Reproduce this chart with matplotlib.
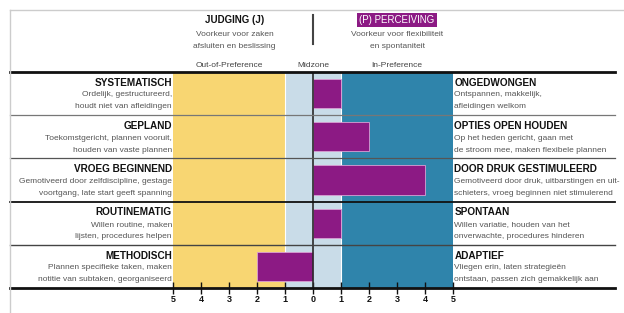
import matplotlib.pyplot as plt
from matplotlib.lines import Line2D

# data
left_titles = ['SYSTEMATISCH', 'GEPLAND', 'VROEG BEGINNEND', 'ROUTINEMATIG', 'METHODISCH']
left_lines = [
    ['Ordelijk, gestructureerd,', 'houdt niet van afleidingen'],
    ['Toekomstgericht, plannen vooruit,', 'houden van vaste plannen'],
    ['Gemotiveerd door zelfdiscipline, gestage', 'voortgang, late start geeft spanning'],
    ['Willen routine, maken', 'lijsten, procedures helpen'],
    ['Plannen specifieke taken, maken', 'notitie van subtaken, georganiseerd'],
]
right_titles = ['ONGEDWONGEN', 'OPTIES OPEN HOUDEN', 'DOOR DRUK GESTIMULEERD', 'SPONTAAN', 'ADAPTIEF']
right_lines = [
    ['Ontspannen, makkelijk,', 'afleidingen welkom'],
    ['Op het heden gericht, gaan met', 'de stroom mee, maken flexibele plannen'],
    ['Gemotiveerd door druk, uitbarstingen en uit-', 'schieters, vroeg beginnen niet stimulerend'],
    ['Willen variatie, houden van het', 'onverwachte, procedures hinderen'],
    ['Vliegen erin, laten strategieën', 'ontstaan, passen zich gemakkelijk aan'],
]
scores = [1, 2, 4, 1, -2]
zones = [(-5, -1), (-1, 1), (1, 5)]
zone_names = ['Out-of-Preference', 'Midzone', 'In-Preference']
ticks = list(range(-5, 6))
tick_labels = [str(abs(t)) for t in ticks]

yellow = '#f8d672'
light_blue = '#c9dce8'
teal = '#2f84ab'
purple = '#8c1a84'
grey_txt = '#555555'

sans = ['Liberation Sans', 'DejaVu Sans']
small = 6.0

fig = plt.figure(figsize=(6.24, 3.13), dpi=100)
ax = fig.add_axes([173 / 624, 25 / 313, 280 / 624, 216 / 313])

for (a, b), c in zip(zones, [yellow, light_blue, teal]):
    ax.axvspan(a, b, color=c, lw=0, zorder=0)
ax.axvline(-1, color='white', lw=0.8, zorder=1)
ax.axvline(1, color='white', lw=0.8, zorder=1)

rows = [i + 0.5 for i in range(len(scores))]
ax.barh(rows, scores, height=0.68, color=purple, edgecolor='#d9a0d4', lw=0.6, zorder=2)
ax.axvline(0, color='#2a2a2a', lw=1.2, zorder=3)

ax.set_xlim(-5, 5)
ax.set_ylim(5, 0)
for s in ax.spines.values():
    s.set_visible(False)
ax.set_yticks([])
ax.set_xticks(ticks)
ax.set_xticklabels(tick_labels, fontweight='bold', fontsize=6.5, family=sans)
ax.tick_params(axis='x', direction='inout', length=8, width=1, pad=1, colors='#111111')

# row separators running across the whole table
x0 = (10 - 173) / 280
x1 = (615 - 173) / 280
styles = [('#111111', 2.0), ('#777777', 0.9), ('#555555', 0.9),
          ('#111111', 1.3), ('#444444', 1.0), ('#111111', 2.0)]
for i, (c, w) in enumerate(styles):
    ax.axhline(i, x0, x1, color=c, lw=w, clip_on=False, zorder=4)

# row labels
for i in range(len(scores)):
    ax.text(-5.04, i + 0.25, left_titles[i], ha='right', va='center', fontsize=7.2,
            fontweight='bold', family=sans, color='#111111')
    ax.text(5.05, i + 0.25, right_titles[i], ha='left', va='center', fontsize=7.2,
            fontweight='bold', family=sans, color='#111111')
    for k in range(2):
        ax.text(-5.04, i + 0.53 + 0.28 * k, left_lines[i][k], ha='right', va='center',
                fontsize=small, family=sans, color=grey_txt)
        ax.text(5.05, i + 0.53 + 0.28 * k, right_lines[i][k], ha='left', va='center',
                fontsize=small, family=sans, color=grey_txt)

# header
for (a, b), name in zip(zones, zone_names):
    ax.text((a + b) / 2, -0.16, name, ha='center', va='center', fontsize=small,
            family=sans, color='#444444', clip_on=False)

ax.text(-2.8, -1.2, 'JUDGING (J)', ha='center', va='center', fontsize=7.0,
        fontweight='bold', family=sans, color='#111111')
ax.text(-2.8, -0.86, 'Voorkeur voor zaken', ha='center', va='center', fontsize=small,
        family=sans, color=grey_txt)
ax.text(-2.8, -0.58, 'afsluiten en beslissing', ha='center', va='center', fontsize=small,
        family=sans, color=grey_txt)
ax.plot([0, 0], [-1.32, -0.65], color='#444444', lw=1.5, clip_on=False)
ax.text(3, -1.2, '(P) PERCEIVING', ha='center', va='center', fontsize=7.0,
        family=sans, color='white',
        bbox=dict(boxstyle='square,pad=0.22', fc=purple, ec='none'))
ax.text(3, -0.86, 'Voorkeur voor flexibiliteit', ha='center', va='center', fontsize=small,
        family=sans, color=grey_txt)
ax.text(3, -0.58, 'en spontaniteit', ha='center', va='center', fontsize=small,
        family=sans, color=grey_txt)

# light frame
fig.add_artist(Line2D([10 / 624, 1], [1 - 10 / 313] * 2, color='#cccccc', lw=1))
fig.add_artist(Line2D([10 / 624] * 2, [0, 1 - 10 / 313], color='#cccccc', lw=1))

fig.savefig('out.png', dpi=100)
